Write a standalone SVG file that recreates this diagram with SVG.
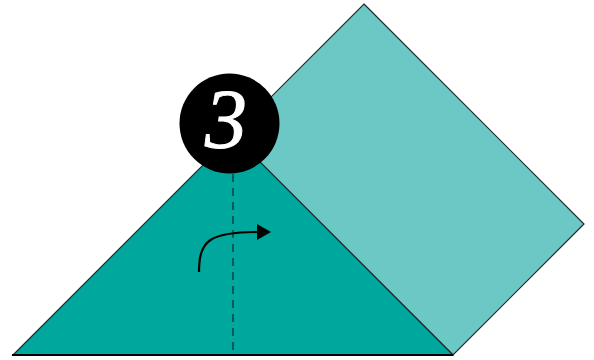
<svg xmlns="http://www.w3.org/2000/svg" width="594" height="360" viewBox="0 0 594 360">
<defs>
<style>
.edge{stroke:#1f2a2a;stroke-width:1.2;stroke-linejoin:miter}
.num{font-family:"Liberation Serif","DejaVu Serif",serif;font-style:italic;font-size:84px;fill:#fff;stroke:#fff;stroke-width:1}
</style>
<marker id="ah" markerWidth="15" markerHeight="17" refX="1" refY="8" orient="auto" markerUnits="userSpaceOnUse" overflow="visible">
<path d="M0,0 L14,8 L0,16 Z" fill="#000"/>
</marker>
</defs>
<g id="back-flap">
<polygon class="edge" points="364,4 584,224 453,355 233,135" fill="#6cc8c4"/>
</g>
<g id="front-triangle">
<polygon class="edge" points="13,355 233,135 453,355" fill="#00a79d"/>
<line x1="12" y1="355" x2="453" y2="355" stroke="#000" stroke-width="2"/>
</g>
<g id="connectors">
<line x1="233" y1="160" x2="233" y2="356" stroke="#17403d" stroke-width="1.5" stroke-dasharray="8,6"/>
<path d="M199,272 C199,240 210,232 258,232" fill="none" stroke="#000" stroke-width="2.2" marker-end="url(#ah)"/>
</g>
<g id="step-badge">
<circle cx="229.5" cy="123.5" r="50" fill="#000"/>
<text class="num" x="226" y="148" text-anchor="middle">3</text>
</g>
</svg>
